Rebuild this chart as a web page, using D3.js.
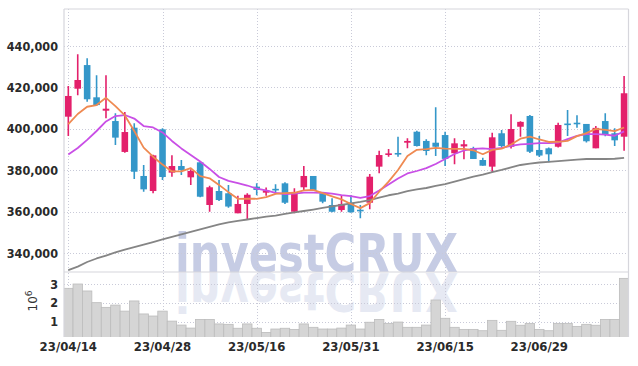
<!DOCTYPE html>
<html><head><meta charset="utf-8">
<script src="https://cdn.jsdelivr.net/npm/d3@7/dist/d3.min.js"></script>
<style>body{margin:0;background:#fff}svg{display:block}</style>
</head><body>
<svg id="c" width="638" height="366"></svg>
<script>
const dates = ["2023-04-14","2023-04-17","2023-04-18","2023-04-19","2023-04-20","2023-04-21","2023-04-24","2023-04-25","2023-04-26","2023-04-27",
"2023-04-28","2023-05-02","2023-05-03","2023-05-04","2023-05-08","2023-05-09","2023-05-10","2023-05-11","2023-05-12","2023-05-15",
"2023-05-16","2023-05-17","2023-05-18","2023-05-19","2023-05-22","2023-05-23","2023-05-24","2023-05-25","2023-05-26","2023-05-30",
"2023-05-31","2023-06-01","2023-06-02","2023-06-05","2023-06-07","2023-06-08","2023-06-09","2023-06-12","2023-06-13","2023-06-14",
"2023-06-15","2023-06-16","2023-06-19","2023-06-20","2023-06-21","2023-06-22","2023-06-23","2023-06-26","2023-06-27","2023-06-28",
"2023-06-29","2023-06-30","2023-07-03","2023-07-04","2023-07-05","2023-07-06","2023-07-07","2023-07-10","2023-07-11","2023-07-12"];
const openP = [405900,419400,430800,415250,408800,403800,388900,400600,377300,370050,
399800,378900,382100,376650,383900,363300,370050,368950,359300,363800,
372150,369250,371100,373750,360050,371850,377300,368950,363300,360900,
364400,361000,364400,381800,387700,388400,393350,398650,394200,393350,
397050,388250,391550,390650,385000,381800,397900,391400,401050,406250,
389850,390650,391400,402600,403000,402400,390650,403800,397900,396250];
const highP = [420700,436000,434100,425850,425850,407550,408150,402700,382600,387600,
400300,387250,385000,380500,384000,372600,375350,372950,367800,368950,
373750,371800,373300,374250,371350,382100,377300,369000,366500,368100,
368000,363300,378250,389500,390300,396250,395500,399150,395000,410400,
398650,395500,394650,391400,386100,398200,399500,407050,403650,406700,
396600,391000,403000,409100,406550,402400,401400,407550,400300,425500];
const lowP = [396600,416200,413100,411050,405100,392250,388500,375850,369700,368950,
375350,376950,377800,372950,367000,360050,365200,362000,359300,356050,
368000,367800,368600,363800,359300,370550,370000,364100,359800,360050,
359600,356900,361200,378600,386600,386600,390650,391500,387300,386950,
382100,383000,385350,385500,382250,379100,391000,390600,396250,388400,
386500,383900,391000,396600,400600,393500,390650,396500,391750,389500];
const closeP = [415900,423600,414300,411500,409750,395800,398500,379350,370850,387250,
376800,382100,380200,379750,367300,371850,365700,362550,363800,368250,
370550,370400,370600,364400,369250,377300,370550,364900,360050,363800,
359800,360600,376950,387400,388200,387800,394200,391750,389350,391400,
385550,393050,392600,385500,382250,395950,391750,399950,403400,389000,
387150,387750,401900,402000,402500,394050,400500,397100,394500,417200];
const ma5 = [402300,407200,410700,411500,415000,411000,406500,399000,391000,386600,
382800,379500,379500,381100,377200,376200,373000,369500,366300,366400,
366300,367100,368700,369000,369200,370400,370600,369000,367500,366000,
363800,361800,364200,369700,374600,380200,386900,389900,390300,390900,
390500,390400,390400,389700,387800,389900,390500,392500,395300,396300,
394900,393700,393800,394200,396500,398000,400000,399500,398900,400700];
const ma20 = [387700,390800,394700,399000,403600,406200,406700,405000,401400,400700,
398300,394200,390600,387400,384300,380700,376800,374900,373900,372700,
371200,370300,369100,368600,368800,369300,369300,369200,368800,368100,
367600,366700,367600,370300,373200,376100,378500,379700,381100,383100,
385500,387900,389600,390400,390600,390300,390800,391800,392500,392800,
393100,393100,393400,395100,396600,397500,397500,397200,396700,398800];
const ma60 = [331900,333600,335800,337500,338900,340400,341800,343000,344200,345400,
346700,347900,349100,350300,351500,352700,353900,354900,355600,356300,
357000,357700,358200,359000,359700,360400,361100,361900,362600,363300,
364100,364800,365700,366900,368000,368800,370000,370800,371500,372500,
373400,374600,375800,377000,378000,379200,380200,381400,382600,383300,
383800,384100,384500,384800,385200,385500,385500,385500,385600,386000];
const volume = [2.77,3.00,2.63,2.01,1.76,1.88,1.56,2.10,1.41,1.30,
1.56,1.03,0.82,0.66,1.12,1.12,0.88,0.86,0.65,0.88,
0.65,0.43,0.61,0.65,0.59,0.88,0.70,0.61,0.61,0.66,
0.82,0.61,0.97,1.12,0.91,0.98,0.70,0.70,0.82,2.15,
1.18,0.70,0.59,0.59,0.52,1.07,0.54,1.02,0.81,0.91,
0.59,0.52,0.91,0.91,0.75,0.86,0.81,1.12,1.12,3.30];
const priceTicks = [340000,360000,380000,400000,420000,440000];
const volumeTicks = [1,2,3];
const dateTicks = ["2023-04-14","2023-04-28","2023-05-16","2023-05-31","2023-06-15","2023-06-29"];

const L = 64, R = 628.5, T = 9, PB = 272, VB = 337;
const svg = d3.select("#c");
const x = d3.scaleBand().domain(dates).range([63.6, 628.8]).padding(0);
const cx = d => x(d) + x.bandwidth() / 2;
const y = d3.scaleLinear().domain([340000, 440000]).range([253.3, 46]);
const yv = d3.scaleLinear().domain([0, 3]).range([340.5, 284]);
const fmtDate = d3.timeFormat("%y/%m/%d");
const parse = d3.timeParse("%Y-%m-%d");

const defs = svg.append("defs");
defs.append("clipPath").attr("id", "cp").append("rect").attr("x", L).attr("y", T).attr("width", R - L).attr("height", PB - T);
defs.append("clipPath").attr("id", "cv").append("rect").attr("x", L).attr("y", PB).attr("width", R - L).attr("height", VB - PB);

// watermark
const wm = svg.append("g").attr("font-family", "DejaVu Sans, sans-serif").attr("font-weight", "bold").attr("font-size", 54);
wm.append("text").attr("x", 175).attr("y", 272).attr("textLength", 283).attr("lengthAdjust", "spacingAndGlyphs")
  .attr("fill", "#c6cce4").text("investCRUX");
wm.append("text").attr("transform", "translate(0,545) scale(1,-1)").attr("x", 175).attr("y", 272).attr("textLength", 283)
  .attr("lengthAdjust", "spacingAndGlyphs").attr("fill", "#e6e9f3").text("investCRUX");

// grid
const grid = svg.append("g").attr("stroke", "#c9cad8").attr("stroke-width", 1).attr("stroke-dasharray", "1,2");
grid.selectAll(".hy").data(priceTicks).join("line").attr("x1", L).attr("x2", R)
  .attr("y1", d => Math.round(y(d)) + 0.5).attr("y2", d => Math.round(y(d)) + 0.5);
grid.selectAll(".hv").data(volumeTicks).join("line").attr("class", "hv").attr("x1", L).attr("x2", R)
  .attr("y1", d => Math.round(yv(d)) + 0.5).attr("y2", d => Math.round(yv(d)) + 0.5);
grid.selectAll(".vx").data(dateTicks).join("line").attr("class", "vx").attr("y1", T).attr("y2", VB)
  .attr("x1", d => Math.round(cx(d)) + 0.5).attr("x2", d => Math.round(cx(d)) + 0.5);

// volume bars
svg.append("g").attr("clip-path", "url(#cv)").selectAll("rect").data(dates).join("rect")
  .attr("x", d => x(d)).attr("width", x.bandwidth())
  .attr("y", (d, i) => yv(volume[i])).attr("height", (d, i) => yv(0) - yv(volume[i]))
  .attr("fill", "#d5d5d5").attr("stroke", "#bcbcbc").attr("stroke-width", 0.8);

// candles
const up = "#e3206b", down = "#3497c9";
const cg = svg.append("g").attr("clip-path", "url(#cp)");
const cw = 6.6;
dates.forEach((d, i) => {
  const col = closeP[i] >= openP[i] ? up : down;
  cg.append("line").attr("x1", cx(d)).attr("x2", cx(d)).attr("y1", y(highP[i])).attr("y2", y(lowP[i]))
    .attr("stroke", col).attr("stroke-width", 1.6);
  const top = y(Math.max(openP[i], closeP[i])), bot = y(Math.min(openP[i], closeP[i]));
  cg.append("rect").attr("x", cx(d) - cw / 2).attr("width", cw).attr("y", top).attr("height", Math.max(1.6, bot - top))
    .attr("fill", col);
});

// moving averages
const line = arr => d3.line().x((d, i) => cx(dates[i])).y(d => y(d))(arr);
const lg = svg.append("g").attr("clip-path", "url(#cp)").attr("fill", "none").attr("stroke-linejoin", "round");
lg.append("path").attr("d", line(ma60)).attr("stroke", "#858585").attr("stroke-width", 1.8);
lg.append("path").attr("d", line(ma20)).attr("stroke", "#c94fe6").attr("stroke-width", 1.8);
lg.append("path").attr("d", line(ma5)).attr("stroke", "#ef8a52").attr("stroke-width", 1.8);

// frame
const fr = svg.append("g").attr("stroke", "#d6d6dc").attr("stroke-width", 1.2);
fr.append("line").attr("x1", L).attr("x2", R).attr("y1", T).attr("y2", T);
fr.append("line").attr("x1", L).attr("x2", R).attr("y1", PB).attr("y2", PB);
fr.append("line").attr("x1", L).attr("x2", L).attr("y1", T).attr("y2", VB);
fr.append("line").attr("x1", R).attr("x2", R).attr("y1", T).attr("y2", VB);

// axes
const font = "DejaVu Sans Condensed, DejaVu Sans, sans-serif";
const ya = svg.append("g").attr("transform", `translate(${L},0)`)
  .call(d3.axisLeft(y).tickValues(priceTicks).tickFormat(d3.format(",")).tickSize(0).tickPadding(6));
const yva = svg.append("g").attr("transform", `translate(${L},0)`)
  .call(d3.axisLeft(yv).tickValues(volumeTicks).tickFormat(d3.format("d")).tickSize(0).tickPadding(6));
const xa = svg.append("g").attr("transform", `translate(0,${VB})`)
  .call(d3.axisBottom(x).tickValues(dateTicks).tickFormat(d => fmtDate(parse(d))).tickSize(0).tickPadding(5));
[ya, yva, xa].forEach(g => {
  g.select(".domain").remove();
  g.selectAll("text").attr("font-family", font).attr("font-weight", "bold").attr("font-size", 12.5).attr("fill", "#2a2a2a");
});
xa.selectAll("text").attr("font-size", 13);

// volume unit
const ut = svg.append("text").attr("transform", "translate(37,301) rotate(-90)").attr("text-anchor", "middle")
  .attr("font-family", "DejaVu Sans, sans-serif").attr("font-size", 12).attr("fill", "#333");
ut.append("tspan").text("10");
ut.append("tspan").attr("baseline-shift", "super").attr("font-size", 9).text("6");
</script>
</body></html>
